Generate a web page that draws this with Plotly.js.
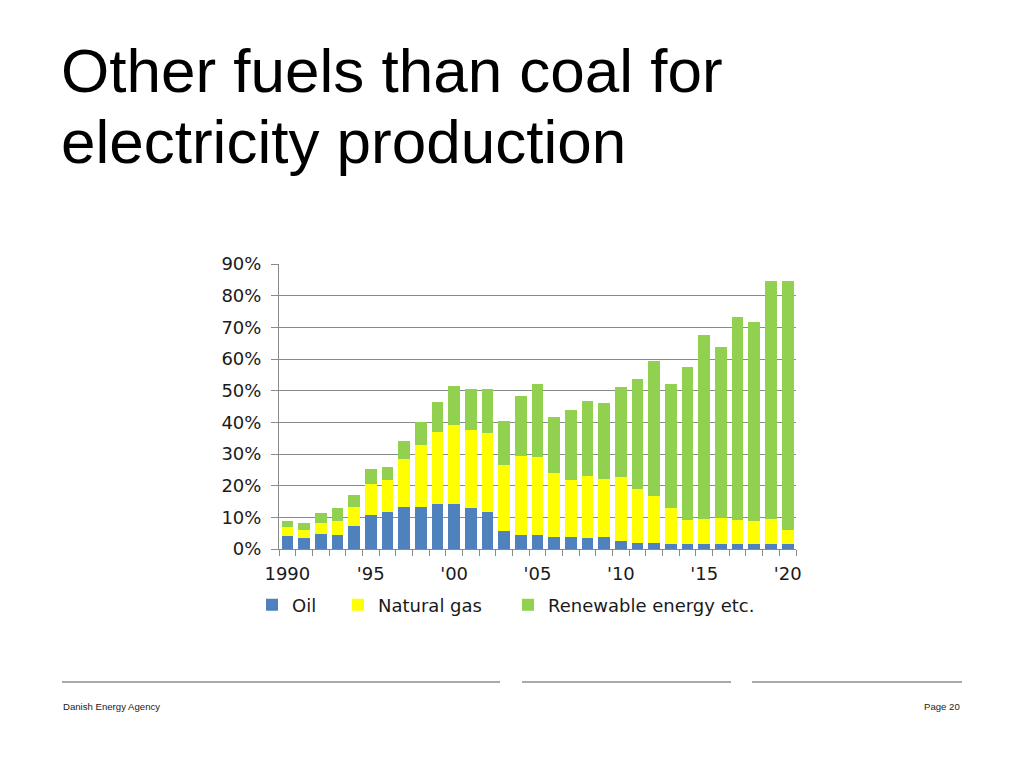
<!DOCTYPE html>
<html>
<head>
<meta charset="utf-8">
<script src="https://cdn.plot.ly/plotly-3.0.1.min.js"></script>
<style>
  html, body { margin: 0; padding: 0; background: #ffffff; }
  #chart { width: 1024px; height: 768px; }
</style>
</head>
<body>
<div id="chart"></div>
<script>
// ---- Data (share of electricity production, %) ----
var years = [1990,1991,1992,1993,1994,1995,1996,1997,1998,1999,2000,2001,2002,2003,2004,2005,2006,2007,2008,2009,2010,2011,2012,2013,2014,2015,2016,2017,2018,2019,2020];
var oil = [4.0,3.6,4.6,4.3,7.4,10.8,11.8,13.4,13.4,14.1,14.1,13.1,11.6,5.6,4.5,4.5,3.9,3.9,3.5,3.9,2.6,2.0,2.0,1.6,1.6,1.6,1.6,1.6,1.6,1.6,1.6];
var naturalGas = [2.8,2.3,3.5,4.7,6.0,9.8,10.1,14.9,19.3,22.9,25.2,24.6,25.0,20.9,24.9,24.6,20.0,17.8,19.7,18.2,20.2,17.1,14.8,11.5,7.7,8.0,8.3,7.7,7.2,8.0,4.5];
var renewables = [1.9,2.3,3.4,4.1,3.8,4.6,4.1,5.9,7.5,9.4,12.1,12.8,13.9,13.9,19.0,23.0,17.7,22.2,23.6,24.0,28.3,34.6,42.6,39.0,48.2,58.0,53.9,64.0,62.8,75.0,78.5];
var seriesNames = ["Oil", "Natural gas", "Renewable energy etc."];
var tickYears = [1990,1995,2000,2005,2010,2015,2020];
var tickLabels = ["1990","'95","'00","'05","'10","'15","'20"];
var yTickVals = [0,10,20,30,40,50,60,70,80,90];
var yTickLabels = ["0%","10%","20%","30%","40%","50%","60%","70%","80%","90%"];
var titleLines = ["Other fuels than coal for", "electricity production"];
var footerLeft = "Danish Energy Agency";
var footerRight = "Page 20";

// ---- Layout helpers (pixel -> paper) ----
var L = 279, R = 796, T = 264, B = 549;
function px(x) { return (x - L) / (R - L); }
function py(y) { return (B - y) / (B - T); }

var colors = ["#4F81BD", "#FFFF00", "#92D050"];
var legendFont = {family: "DejaVu Sans, Verdana, sans-serif", size: 18, color: "#1a1a1a"};

var traces = [
  {type: "bar", name: seriesNames[0], x: years, y: oil, marker: {color: colors[0]}, legend: "legend"},
  {type: "bar", name: seriesNames[1], x: years, y: naturalGas, marker: {color: colors[1]}, legend: "legend2"},
  {type: "bar", name: seriesNames[2], x: years, y: renewables, marker: {color: colors[2]}, legend: "legend3"}
];

function legendAt(xpx) {
  return {
    x: px(xpx), xanchor: "left", y: py(605), yanchor: "middle",
    orientation: "h", font: legendFont, bgcolor: "rgba(0,0,0,0)",
    borderwidth: 0
  };
}

var gridColor = "#8a8a8a";

var layout = {
  width: 1024, height: 768,
  paper_bgcolor: "#ffffff", plot_bgcolor: "#ffffff",
  margin: {l: L, r: 1024 - R, t: T, b: 768 - B, pad: 0},
  barmode: "stack",
  bargap: 0.3,
  showlegend: true,
  legend: legendAt(252),
  legend2: legendAt(338),
  legend3: legendAt(508),
  xaxis: {
    range: [1989.5, 2020.5],
    tickmode: "array", tickvals: tickYears, ticktext: tickLabels,
    ticks: "", showgrid: false, zeroline: false,
    showline: true, linecolor: gridColor, linewidth: 1,
    tickfont: legendFont,
    ticklabelstandoff: 8,
    minor: {tick0: 1989.5, dtick: 1, ticks: "outside", ticklen: 6, tickcolor: gridColor, tickwidth: 1, showgrid: false},
    fixedrange: true
  },
  yaxis: {
    range: [0, 90],
    tickmode: "array", tickvals: yTickVals, ticktext: yTickLabels,
    ticks: "outside", ticklen: 7, tickcolor: gridColor,
    showgrid: true, gridcolor: gridColor, gridwidth: 1,
    zeroline: false,
    showline: true, linecolor: gridColor, linewidth: 1,
    tickfont: legendFont,
    ticklabelstandoff: 6,
    fixedrange: true
  },
  annotations: [
    {text: titleLines[0], xref: "paper", yref: "paper", x: px(59), y: py(71), xanchor: "left", yanchor: "middle",
     showarrow: false, font: {family: "Liberation Sans, Arial, sans-serif", size: 62, color: "#000000"}},
    {text: titleLines[1], xref: "paper", yref: "paper", x: px(59), y: py(141), xanchor: "left", yanchor: "middle",
     showarrow: false, font: {family: "Liberation Sans, Arial, sans-serif", size: 62, color: "#000000"}},
    {text: footerLeft, xref: "paper", yref: "paper", x: px(61), y: py(706), xanchor: "left", yanchor: "middle",
     showarrow: false, font: {family: "Liberation Sans, Arial, sans-serif", size: 9.6, color: "#222222"}},
    {text: footerRight, xref: "paper", yref: "paper", x: px(962), y: py(706), xanchor: "right", yanchor: "middle",
     showarrow: false, font: {family: "Liberation Sans, Arial, sans-serif", size: 9.6, color: "#222222"}}
  ],
  shapes: [
    {type: "line", xref: "paper", yref: "paper", x0: px(62), x1: px(500), y0: py(682), y1: py(682), line: {color: "#8c8c8c", width: 1.5}},
    {type: "line", xref: "paper", yref: "paper", x0: px(522), x1: px(731), y0: py(682), y1: py(682), line: {color: "#8c8c8c", width: 1.5}},
    {type: "line", xref: "paper", yref: "paper", x0: px(752), x1: px(962), y0: py(682), y1: py(682), line: {color: "#8c8c8c", width: 1.5}}
  ]
};

Plotly.newPlot("chart", traces, layout, {displayModeBar: false, staticPlot: true});
</script>
</body>
</html>
